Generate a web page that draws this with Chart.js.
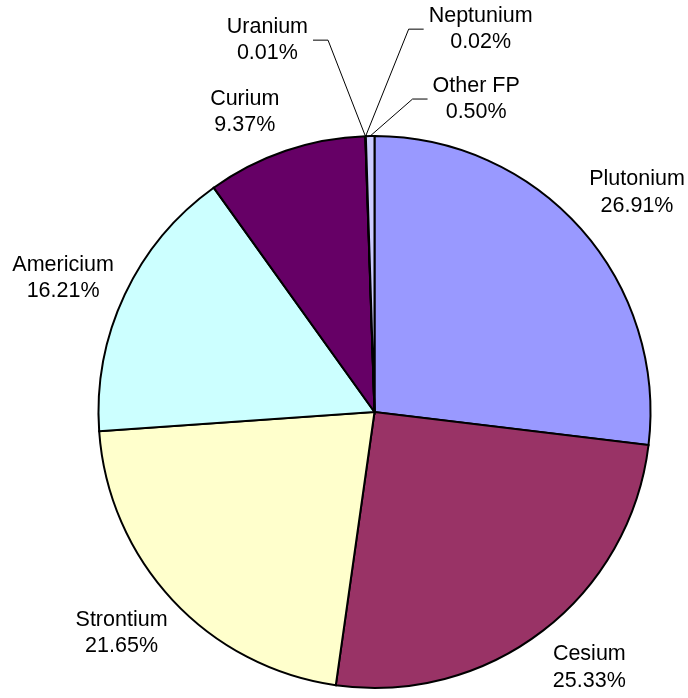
<!DOCTYPE html>
<html>
<head>
<meta charset="utf-8">
<script src="https://cdn.jsdelivr.net/npm/chart.js@4"></script>
<style>
  html, body { margin: 0; padding: 0; background: #fff; }
  #wrap { width: 688px; height: 698px; position: relative; }
</style>
</head>
<body>
<div id="wrap"><canvas id="pieChart" width="688" height="698"></canvas></div>
<script>
const elements = ['Plutonium', 'Cesium', 'Strontium', 'Americium', 'Curium', 'Uranium', 'Neptunium', 'Other FP'];
const shares = [26.91, 25.33, 21.65, 16.21, 9.37, 0.01, 0.02, 0.50];
const sliceColors = ['#9999FF', '#993366', '#FFFFCC', '#CCFFFF', '#660066', '#FF8080', '#0066CC', '#CCCCFF'];

// label placement: big slices sit along the slice angle (shift deg, extra radius),
// tiny ones get a leader line from the arc edge to a label offset (dx, dy)
const labelPlace = [
    { shift: 1.7, extra: 66 },
    { shift: -2.5, extra: 58 },
    { shift: 1.8, extra: 60 },
    { shift: -1.9, extra: 63 },
    { shift: -4.6, extra: 51 },
    { leader: [-98, -96], side: 'left' },
    { leader: [115, -107], side: 'right' },
    { leader: [106, -37], side: 'right' }
];

const pieLabels = {
    id: 'pieLabels',
    afterDraw(chart) {
        const ctx = chart.ctx;
        const arcs = chart.getDatasetMeta(0).data;
        ctx.save();
        ctx.font = '21.5px "Liberation Sans", Arial, sans-serif';
        ctx.fillStyle = '#000';
        ctx.textBaseline = 'middle';
        const lineH = 26.5;
        arcs.forEach((arc, i) => {
            const p = labelPlace[i];
            const lines = [elements[i], shares[i].toFixed(2) + '%'];
            const mid = (arc.startAngle + arc.endAngle) / 2;
            let cx, cy;
            if (p.leader) {
                const ax = arc.x + Math.cos(mid) * arc.outerRadius;
                const ay = arc.y + Math.sin(mid) * arc.outerRadius;
                cx = ax + p.leader[0];
                cy = ay + p.leader[1];
                const w = Math.max(...lines.map(t => ctx.measureText(t).width));
                const edge = p.side === 'left' ? cx + w / 2 + 5 : cx - w / 2 - 5;
                const knee = p.side === 'left' ? edge + 15 : edge - 15;
                ctx.strokeStyle = '#000';
                ctx.lineWidth = 1;
                ctx.beginPath();
                ctx.moveTo(edge, cy);
                ctx.lineTo(knee, cy);
                ctx.lineTo(ax, ay);
                ctx.stroke();
            } else {
                const a = mid + p.shift * Math.PI / 180;
                const d = arc.outerRadius + p.extra;
                cx = arc.x + Math.cos(a) * d;
                cy = arc.y + Math.sin(a) * d;
            }
            ctx.textAlign = 'center';
            ctx.fillText(lines[0], cx, cy - lineH / 2);
            ctx.fillText(lines[1], cx, cy + lineH / 2);
        });
        ctx.restore();
    }
};

new Chart(document.getElementById('pieChart').getContext('2d'), {
    type: 'pie',
    data: {
        labels: elements,
        datasets: [{
            data: shares,
            backgroundColor: sliceColors,
            borderColor: '#000',
            borderWidth: 2,
            borderJoinStyle: 'miter'
        }]
    },
    options: {
        responsive: false,
        animation: false,
        layout: { padding: { left: 97.5, top: 135, right: 36.5, bottom: 9 } },
        plugins: {
            legend: { display: false },
            tooltip: { enabled: false }
        }
    },
    plugins: [pieLabels]
});
</script>
</body>
</html>
